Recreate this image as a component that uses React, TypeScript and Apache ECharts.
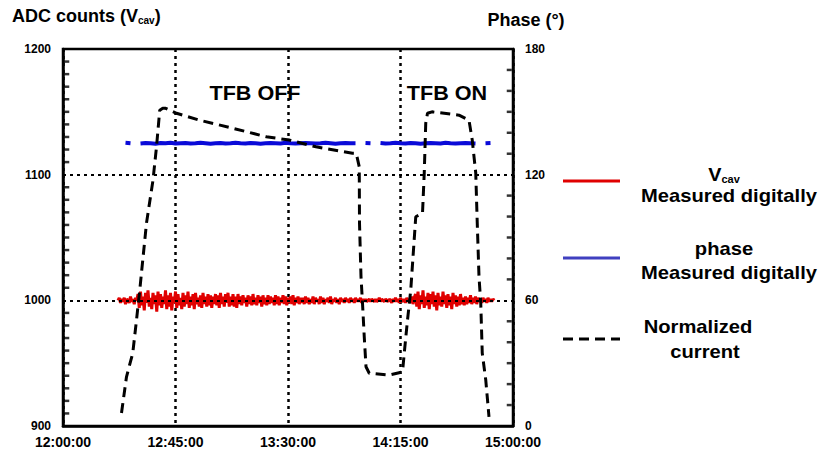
import React, { useEffect, useRef } from "react";
import * as echarts from "echarts";

// x values are minutes after 12:00:00
const xTickLabels = ["12:00:00", "12:45:00", "13:30:00", "14:15:00", "15:00:00"];
const leftTicks = [900, 1000, 1100, 1200];
const rightTicks = [0, 60, 120, 180];
const leftGridValues = [1000, 1100];
const leftMinorTicks = [
  910, 920, 930, 940, 950, 960, 970, 980, 990, 1010, 1020, 1030, 1040, 1050, 1060, 1070, 1080, 1090,
  1110, 1120, 1130, 1140, 1150, 1160, 1170, 1180, 1190,
];
const rightMinorTicks = [10, 20, 30, 40, 50, 70, 80, 90, 100, 110, 130, 140, 150, 160, 170];

// V_cav measured digitally (ADC counts), one sample every half minute from 12:22:00 to 14:52:30
const vcavStart = 22;
const vcavStep = 0.5;
const vcavValues = [
  1000, 1002, 998, 1001, 999, 1002, 997, 1001, 1000, 998, 1003, 999, 1001, 997, 1002, 1000,
  1005, 994, 1007, 996, 1003, 992, 1006, 998, 1008, 995, 1002, 993, 1006, 997, 1004, 991, 1007, 996, 1005, 994,
  1003, 997, 1008, 993, 1004, 995, 1006, 992, 1003, 998, 1007, 994, 1005, 996, 1002, 993, 1006, 995, 1004, 997,
  1007, 994, 1003, 996, 1005, 993, 1006, 997, 1002, 995, 1004, 994, 1006, 997, 1003, 995, 1005, 996, 1004, 994,
  1003, 997,
  1005, 996, 1004, 994, 1006, 997, 1003, 995, 1005, 998, 1006, 995, 1003, 996, 1005, 995, 1003, 994, 1005, 997,
  1003, 996, 1004, 998, 1002, 995, 1004, 997, 1003, 996, 1005, 997, 1002, 996, 1004, 998, 1003, 995, 1004, 997,
  1002, 996, 1004, 997, 1003, 998, 1002, 996, 1004, 997, 1003, 996, 1002, 998, 1004, 997, 1003, 996, 1002, 998,
  1003, 997, 1004, 996, 1002, 998, 1003, 997, 1002, 998,
  1002, 997, 1003, 998, 1002, 997, 1001, 998, 1003, 997, 1002, 999, 1001, 997, 1003, 998, 1002, 997, 1001, 999,
  1002, 998, 1003, 997, 1001, 999, 1002, 998, 1001, 997, 1002, 999, 1001, 998, 1002, 999, 1001, 998, 1002, 999,
  1001, 998, 1002, 999, 1001, 999, 1002, 998, 1001, 999,
  1001, 999, 1000, 1001, 999, 1001, 1000, 999, 1001, 999, 1000, 1002, 999, 1001, 1000, 999, 1001, 1000, 999, 1001,
  1000, 998, 1001, 999, 1002, 999, 1001, 998, 1002, 1000, 999, 1001, 998, 1002, 999, 1001, 998, 1003, 997, 1002,
  1005, 995, 1007, 993, 1004, 997, 1008, 994, 1003, 996, 1006, 993, 1005, 997, 1007, 995, 1004, 992, 1006, 996,
  1003, 995, 1007, 997, 1004, 994, 1005, 996, 1003, 993, 1006, 997, 1004, 995, 1003, 996, 1005, 997, 1002, 996,
  1003, 997, 1002, 998, 1004, 997, 1002, 998, 1003, 997, 1002, 999, 1001, 998, 1002, 999, 1001, 998, 1002, 999,
  1001, 999, 1001, 1000,
];

// phase measured digitally (degrees), one sample every 2 minutes from 12:21 to 14:51
const phaseStart = 21;
const phaseStep = 2;
const phaseValues = [
  135, null, 135.2, 135, null, 134.9, 135.1, 135, 134.8, 135.1, 135, 135.2, 134.9, 135, 135.1, 134.9,
  135, 135.2, 135, 134.8, 135, 135.1, 134.9, 135, 135.2, 135, 134.9, 135.1, 135, 134.8, 135,
  135.1, 135, 134.9, 135.2, 135, 134.9, 135, 135.1, 135, 134.9, 135, 135.2, 135, 134.8, 135,
  135.1, 135, 135, null, 135.1, 135, null, 135.1, 134.9, 135, 135.2, 135, 134.9, 135.1, 135,
  134.8, 135, 135.1, 135, 134.9, 135.2, 135, 134.9, 135, 135.1, 135, 134.9, null, 135, 135.1,
];

// normalized current (right-axis scale): minutes after 12:00 and value
const currentTimes = [
  23.4, 25.4, 27.9, 29.4, 30.7, 33.4, 36.0, 37.4, 38.7, 39.9, 41.1, 45.4, 54.7, 67.8, 81.3,
  90.6, 101.2, 115.8, 117.3, 118.5, 118.6, 119.2, 119.8, 120.5, 121.2, 122.5, 130.5, 135.8,
  136.5, 137.8, 139.1, 141.1, 143.8, 144.5, 145.1, 145.8, 147.6, 158.4, 162.4, 163.7, 165.1,
  165.7, 166.4, 167.1, 167.7, 169.1, 170.4,
];
const currentValues = [
  6.2, 23.5, 34.8, 50.6, 64.9, 96.9, 117.4, 133.3, 150.8, 151.7, 151.7, 149.3, 146, 142.2, 138.1,
  136.5, 133.3, 130.2, 130.2, 123.8, 96.9, 71.3, 58.7, 42.6, 28.3, 25.2, 24.3, 25.8,
  34.8, 50.6, 64.9, 99.9, 101.5, 120.8, 144.6, 149.3, 150, 148.4, 146, 136.5, 120.8,
  96.9, 71.3, 58.7, 34.8, 22, 4.4,
];

const FONT = '"Liberation Sans", Arial, Helvetica, sans-serif';
const X_MIN = 0;
const X_MAX = 180;

export default function App() {
  const ref = useRef<HTMLDivElement>(null);

  useEffect(() => {
    if (!ref.current) return;
    const chart = echarts.init(ref.current, undefined, { renderer: "svg" });

    const vcavData = vcavValues.map((v, i) => [vcavStart + i * vcavStep, v]);
    const phaseData = phaseValues.map((v, i) => [phaseStart + i * phaseStep, v]);
    const currentData = currentTimes.map((t, i) => [t, currentValues[i]]);

    const fmtTime = (v: number) => {
      const idx = Math.round(v / 45);
      return xTickLabels[idx] ?? "";
    };

    const legendX1 = 563;
    const legendX2 = 620;

    const boldText = (text: string, x: number, y: number, size: number, sx = 1) => ({
      type: "text",
      x,
      y,
      scaleX: sx,
      style: {
        text,
        fill: "#000",
        fontFamily: FONT,
        fontWeight: "bold",
        fontSize: size,
        align: "center",
        verticalAlign: "middle",
      },
    });

    const axisLabelStyle = {
      color: "#000",
      fontFamily: FONT,
      fontWeight: "bold",
      fontSize: 12,
      margin: 12,
    };

    chart.setOption({
      animation: false,
      backgroundColor: "#fff",
      textStyle: { fontFamily: FONT },
      grid: {
        left: 63,
        right: 309,
        top: 49,
        bottom: 28,
        show: true,
        borderColor: "#000",
        borderWidth: 2.5,
        backgroundColor: "transparent",
      },
      xAxis: {
        type: "value",
        min: X_MIN,
        max: X_MAX,
        interval: 45,
        axisLine: { show: true, lineStyle: { color: "#000", width: 2.5 } },
        axisTick: { show: false },
        axisLabel: { ...axisLabelStyle, formatter: fmtTime, fontSize: 14, margin: 9 },
        splitLine: {
          show: true,
          lineStyle: { color: "#000", width: 2.5, type: [3, 4] },
        },
      },
      yAxis: [
        {
          type: "value",
          min: leftTicks[0],
          max: leftTicks[leftTicks.length - 1],
          interval: 100,
          position: "left",
          axisLine: { show: true, onZero: false, lineStyle: { color: "#000", width: 2.5 } },
          axisTick: { show: false },
          axisLabel: { ...axisLabelStyle, formatter: (v: number) => String(v) },
          splitLine: { show: false },
        },
        {
          type: "value",
          min: rightTicks[0],
          max: rightTicks[rightTicks.length - 1],
          interval: 60,
          position: "right",
          axisLine: { show: true, onZero: false, lineStyle: { color: "#000", width: 2.5 } },
          axisTick: { show: false },
          axisLabel: { ...axisLabelStyle, formatter: (v: number) => String(v) },
          splitLine: { show: false },
        },
      ],
      series: [
        {
          name: "grid",
          type: "line",
          yAxisIndex: 0,
          data: [],
          z: 1,
          markLine: {
            silent: true,
            symbol: "none",
            label: { show: false },
            lineStyle: { color: "#000", width: 2, type: [3, 4] },
            data: leftGridValues.map((v) => ({ yAxis: v })),
          },
        },
        {
          name: "left ticks",
          type: "scatter",
          yAxisIndex: 0,
          data: leftMinorTicks.map((v) => [X_MIN, v]),
          symbol: "rect",
          symbolSize: [5, 2.5],
          symbolOffset: [3.75, 0],
          itemStyle: { color: "#000" },
          clip: false,
          silent: true,
          z: 5,
        },
        {
          name: "right ticks",
          type: "scatter",
          yAxisIndex: 1,
          data: rightMinorTicks.map((v) => [X_MAX, v]),
          symbol: "rect",
          symbolSize: [5, 2.5],
          symbolOffset: [-3.75, 0],
          itemStyle: { color: "#000" },
          clip: false,
          silent: true,
          z: 5,
        },
        {
          name: "Vcav measured digitally",
          type: "line",
          yAxisIndex: 0,
          data: vcavData,
          showSymbol: false,
          symbol: "none",
          lineStyle: { color: "#e00000", width: 3 },
          z: 3,
        },
        {
          name: "phase measured digitally",
          type: "line",
          yAxisIndex: 1,
          data: phaseData,
          showSymbol: false,
          symbol: "none",
          connectNulls: false,
          lineStyle: { color: "#0a0ad8", width: 4 },
          z: 2,
        },
        {
          name: "Normalized current",
          type: "line",
          yAxisIndex: 1,
          data: currentData,
          showSymbol: false,
          symbol: "none",
          lineStyle: { color: "#000", width: 3, type: [10, 6] },
          z: 4,
        },
      ],
      graphic: [
        {
          type: "text",
          left: 12,
          top: 7,
          style: {
            text: "{a|ADC counts (V}{s|cav}{a|)}",
            fill: "#000",
            rich: {
              a: { fontFamily: FONT, fontWeight: "bold", fontSize: 18, fill: "#000", verticalAlign: "bottom", lineHeight: 24 },
              s: { fontFamily: FONT, fontWeight: "bold", fontSize: 10, fill: "#000", verticalAlign: "bottom", lineHeight: 16 },
            },
          },
        },
        boldText("Phase (°)", 526, 20, 18),
        boldText("TFB OFF", 255, 93, 20, 1.08),
        boldText("TFB ON", 447, 93, 20, 1.08),
        // legend: V_cav
        {
          type: "line",
          shape: { x1: legendX1, y1: 181, x2: legendX2, y2: 181 },
          style: { stroke: "#e00000", lineWidth: 3 },
        },
        {
          type: "text",
          x: 724,
          y: 172,
          scaleX: 1.1,
          style: {
            text: "{a|V}{s|cav}",
            align: "center",
            verticalAlign: "middle",
            rich: {
              a: { fontFamily: FONT, fontWeight: "bold", fontSize: 18, fill: "#000", verticalAlign: "bottom", lineHeight: 24 },
              s: { fontFamily: FONT, fontWeight: "bold", fontSize: 10, fill: "#000", verticalAlign: "bottom", lineHeight: 14 },
            },
          },
        },
        boldText("Measured digitally", 729, 196, 18, 1.12),
        // legend: phase
        {
          type: "line",
          shape: { x1: legendX1, y1: 258, x2: legendX2, y2: 258 },
          style: { stroke: "#4040c0", lineWidth: 3 },
        },
        boldText("phase", 724, 249, 18, 1.12),
        boldText("Measured digitally", 729, 273, 18, 1.12),
        // legend: normalized current
        {
          type: "line",
          shape: { x1: legendX1, y1: 339, x2: legendX2, y2: 339 },
          style: { stroke: "#000", lineWidth: 3, lineDash: [10, 6] },
        },
        boldText("Normalized", 698, 327, 18, 1.12),
        boldText("current", 705, 352, 18, 1.12),
      ],
    });

    return () => chart.dispose();
  }, []);

  return (
    <div
      ref={ref}
      style={{ position: "fixed", left: 0, top: 0, width: 822, height: 454, background: "#fff" }}
    />
  );
}
